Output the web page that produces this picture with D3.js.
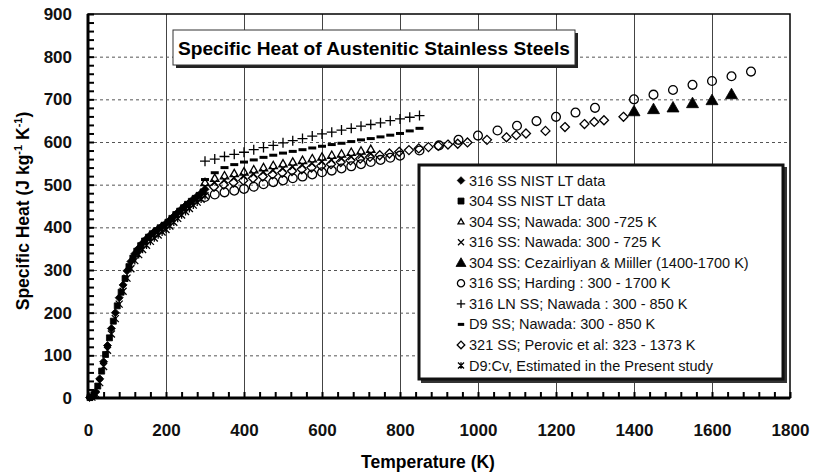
<!DOCTYPE html>
<html lang="en">
<head>
<meta charset="UTF-8">
<title>Specific Heat of Austenitic Stainless Steels</title>
<script src="https://d3js.org/d3.v7.min.js"></script>
<style>
    body { margin: 0; background: #fff; }
    svg { display: block; font-family: "Liberation Sans", Arial, sans-serif; }
    .tick-label { font-weight: bold; font-size: 17px; fill: #111; }
    .legend text { font-size: 14.5px; fill: #111; }
</style>
</head>
<body>
<svg id="chart" width="814" height="475"></svg>
<script>
// --- data ---
// low temperature NIST data and present-study Cv (0 - 300 K)
const nist316T = [4, 10, 20, 30, 40, 50, 60, 70, 80, 90, 100, 110, 120, 130, 140, 150, 160, 170, 180, 190, 200, 210, 220, 230, 240, 250, 260, 270, 280, 290, 300];
const nist316  = [1, 3, 14, 45, 85, 123, 163, 200, 235, 265, 298, 320, 338, 351, 363, 373, 382, 390, 396, 403, 409, 417, 426, 435, 443, 451, 458, 466, 473, 480, 489];
const nist304T = [5, 15, 25, 35, 45, 55, 65, 75, 85, 95, 105, 115, 125, 135, 145, 155, 165, 175, 185, 195, 205, 215, 225, 235, 245, 255, 265, 275, 285, 295];
const nist304  = [1, 8, 28, 63, 102, 141, 180, 216, 248, 280, 308, 328, 344, 357, 368, 377, 385, 392, 399, 405, 412, 421, 430, 438, 446, 454, 461, 468, 475, 483];
const d9CvT = [10, 20, 30, 40, 50, 60, 70, 80, 90, 100, 110, 120, 130, 140, 150, 160, 170, 180, 190, 200, 210, 220, 230, 240, 250, 260, 270, 280, 290, 300];
const d9Cv  = [2, 9, 36, 74, 112, 150, 186, 220, 250, 281, 303, 322, 336, 348, 358, 367, 375, 382, 389, 395, 403, 412, 421, 429, 437, 444, 452, 459, 466, 474];

// Nawada 300 - 725 K
const nawadaT725 = [300, 325, 350, 375, 400, 425, 450, 475, 500, 525, 550, 575, 600, 625, 650, 675, 700, 725];
const nawada304  = [505, 515, 521, 526, 530, 535, 540, 545, 549, 553, 557, 561, 565, 569, 572, 576, 579, 583];
const nawada316  = [495, 505, 511, 516, 520, 525, 530, 534, 538, 542, 546, 550, 554, 558, 561, 565, 568, 572];

// Nawada 300 - 850 K
const nawadaT850 = [300, 325, 350, 375, 400, 425, 450, 475, 500, 525, 550, 575, 600, 625, 650, 675, 700, 725, 750, 775, 800, 825, 850];
const nawada316LN = [555, 560, 566, 571, 576, 582, 587, 592, 598, 603, 608, 614, 619, 623, 628, 632, 637, 641, 645, 650, 654, 658, 662];
const nawadaD9    = [512, 528, 540, 547, 553, 558, 564, 569, 574, 578, 582, 586, 590, 594, 597, 601, 605, 608, 612, 616, 620, 626, 632];

// Cezairliyan & Miiller 1400 - 1700 K
const cezT = [1400, 1450, 1500, 1550, 1600, 1650];
const cez304 = [672, 677, 681, 691, 698, 712];

// Harding 300 - 1700 K
const hardingT = [300, 325, 350, 375, 400, 425, 450, 475, 500, 525, 550, 575, 600, 625, 650, 675, 700, 725, 750, 775, 800, 850, 900, 950, 1000, 1050, 1100, 1150, 1200, 1250, 1300, 1400, 1450, 1500, 1550, 1600, 1650, 1700];
const harding316 = [471, 477, 482, 486, 490, 495, 501, 506, 510, 515, 519, 524, 529, 533, 538, 543, 548, 553, 558, 563, 568, 580, 592, 605, 615, 627, 638, 649, 659, 669, 680, 700, 711, 722, 734, 743, 754, 765];

// Perovic et al 323 - 1373 K
const perovicT = [323, 348, 373, 398, 423, 448, 473, 498, 523, 548, 573, 598, 623, 648, 673, 698, 723, 748, 773, 798, 823, 848, 873, 898, 923, 948, 973, 1023, 1073, 1098, 1123, 1173, 1223, 1273, 1298, 1323, 1373];
const perovic321 = [495, 500, 505, 510, 515, 519, 524, 528, 532, 536, 540, 544, 548, 553, 557, 561, 565, 569, 573, 577, 581, 585, 588, 591, 594, 596, 599, 605, 611, 616, 620, 626, 635, 642, 647, 651, 659];

const xTicks = [0, 200, 400, 600, 800, 1000, 1200, 1400, 1600, 1800];
const yTicks = [0, 100, 200, 300, 400, 500, 600, 700, 800, 900];

const legendLabels = [
    '316 SS NIST LT data',
    '304 SS NIST LT data',
    '304  SS; Nawada: 300 -725 K',
    '316 SS: Nawada: 300 - 725 K',
    '304 SS: Cezairliyan & Miiller (1400-1700 K)',
    '316 SS; Harding : 300 - 1700 K',
    '316 LN SS; Nawada : 300 - 850 K',
    'D9 SS; Nawada: 300 - 850 K',
    '321 SS; Perovic et al: 323 - 1373 K',
    'D9:Cv, Estimated in the Present study'
];

// series description (order = legend order)
const series = [
    {T: nist316T, v: nist316, shape: 'diamond', size: 4, fill: true},
    {T: nist304T, v: nist304, shape: 'square', size: 3, fill: true},
    {T: nawadaT725, v: nawada304, shape: 'triangle', size: 4.2, fill: false},
    {T: nawadaT725, v: nawada316, shape: 'x', size: 3.2, fill: false},
    {T: cezT, v: cez304, shape: 'triangle', size: 6, fill: true},
    {T: hardingT, v: harding316, shape: 'circle', size: 4.4, fill: false},
    {T: nawadaT850, v: nawada316LN, shape: 'plus', size: 5, fill: false},
    {T: nawadaT850, v: nawadaD9, shape: 'dash', size: 4, fill: false},
    {T: perovicT, v: perovic321, shape: 'diamond', size: 4.5, fill: false},
    {T: d9CvT, v: d9Cv, shape: 'star', size: 3.5, fill: false}
];

// --- layout ---
const svg = d3.select('#chart');
const plot = {left: 88, right: 790, top: 14, bottom: 398};

const x = d3.scaleLinear().domain([0, 1800]).range([plot.left, plot.right]);
const y = d3.scaleLinear().domain([0, 900]).range([plot.bottom, plot.top]);

// marker shapes as path strings centred on 0,0
function markerPath(shape, s) {
    switch (shape) {
        case 'diamond': return `M0,${-s}L${s},0L0,${s}L${-s},0Z`;
        case 'square': return `M${-s},${-s}H${s}V${s}H${-s}Z`;
        case 'triangle': return `M0,${-s}L${s},${s * 0.75}L${-s},${s * 0.75}Z`;
        case 'x': return `M${-s},${-s}L${s},${s}M${-s},${s}L${s},${-s}`;
        case 'plus': return `M${-s},0H${s}M0,${-s}V${s}`;
        case 'dash': return `M${-s},0H${s}`;
        case 'star': return `M${-s},${-s}L${s},${s}M${-s},${s}L${s},${-s}M0,${-s * 1.1}V${s * 1.1}`;
        case 'circle': return `M${s},0A${s},${s} 0 1,1 ${-s},0A${s},${s} 0 1,1 ${s},0Z`;
    }
}

function styleMarker(sel, d) {
    const closed = d.shape === 'circle' || d.shape === 'diamond' || d.shape === 'triangle' || d.shape === 'square';
    sel.attr('d', markerPath(d.shape, d.size))
        .attr('fill', d.fill ? '#000' : (closed ? '#fff' : 'none'))
        .attr('fill-opacity', d.fill ? 1 : 0)
        .attr('stroke', '#000')
        .attr('stroke-width', d.shape === 'dash' ? 3 : (d.fill ? 0.8 : 1.3));
}

function plain(g) {
    g.attr('font-family', null).attr('font-size', null);
    g.select('.domain').remove();
}

// --- gridlines ---
svg.append('g')
    .attr('transform', `translate(0,${plot.bottom})`)
    .call(d3.axisBottom(x).tickValues(xTicks.slice(1, -1)).tickSize(-(plot.bottom - plot.top)).tickFormat(''))
    .call(plain)
    .call(g => g.selectAll('line').attr('stroke', '#444').attr('stroke-width', 1));

svg.append('g')
    .attr('transform', `translate(${plot.left},0)`)
    .call(d3.axisLeft(y).tickValues(yTicks.slice(1, -1)).tickSize(-(plot.right - plot.left)).tickFormat(''))
    .call(plain)
    .call(g => g.selectAll('line').attr('stroke', '#555').attr('stroke-width', 1).attr('stroke-dasharray', '3,3'));

// --- minor ticks (inward) ---
svg.append('g')
    .attr('transform', `translate(0,${plot.bottom})`)
    .call(d3.axisBottom(x).tickValues(d3.range(0, 1801, 40)).tickSize(-6).tickFormat(''))
    .call(plain)
    .call(g => g.selectAll('line').attr('stroke', '#000').attr('stroke-width', 2));

svg.append('g')
    .attr('transform', `translate(${plot.left},0)`)
    .call(d3.axisLeft(y).tickValues(d3.range(0, 901, 20)).tickSize(-6).tickFormat(''))
    .call(plain)
    .call(g => g.selectAll('line').attr('stroke', '#000').attr('stroke-width', 2));

// --- frame ---
svg.append('rect')
    .attr('x', plot.left).attr('y', plot.top)
    .attr('width', plot.right - plot.left).attr('height', plot.bottom - plot.top)
    .attr('fill', 'none').attr('stroke', '#000').attr('stroke-width', 1.5);
svg.append('line').attr('x1', plot.left).attr('x2', plot.left).attr('y1', plot.top).attr('y2', plot.bottom + 1)
    .attr('stroke', '#000').attr('stroke-width', 3);
svg.append('line').attr('x1', plot.left - 1).attr('x2', plot.right).attr('y1', plot.bottom).attr('y2', plot.bottom)
    .attr('stroke', '#000').attr('stroke-width', 3);

// --- tick labels ---
svg.append('g')
    .attr('transform', `translate(0,${plot.bottom})`)
    .call(d3.axisBottom(x).tickValues(xTicks).tickSize(0).tickPadding(26).tickFormat(d3.format('d')))
    .call(plain)
    .call(g => g.selectAll('text').attr('class', 'tick-label'));

svg.append('g')
    .attr('transform', `translate(${plot.left},0)`)
    .call(d3.axisLeft(y).tickValues(yTicks).tickSize(0).tickPadding(16).tickFormat(d3.format('d')))
    .call(plain)
    .call(g => g.selectAll('text').attr('class', 'tick-label'));

// --- axis titles ---
svg.append('text')
    .attr('x', 428).attr('y', 468)
    .attr('text-anchor', 'middle')
    .attr('font-weight', 'bold').attr('font-size', 17.5)
    .text('Temperature (K)');

const yTitle = svg.append('text')
    .attr('transform', `translate(29,${(plot.top + plot.bottom) / 2 + 5}) rotate(-90)`)
    .attr('text-anchor', 'middle')
    .attr('font-weight', 'bold').attr('font-size', 17.5);
yTitle.append('tspan').text('Specific Heat (J kg');
yTitle.append('tspan').attr('font-size', 11).attr('dy', -7).text('-1');
yTitle.append('tspan').attr('dy', 7).text(' K');
yTitle.append('tspan').attr('font-size', 11).attr('dy', -7).text('-1');
yTitle.append('tspan').attr('dy', 7).text(')');

// --- data markers ---
const drawOrder = [5, 8, 2, 3, 6, 7, 4, 9, 1, 0];
drawOrder.forEach(i => {
    const s = series[i];
    const pts = s.T.map((t, j) => ({t: t, v: s.v[j]}));
    svg.append('g').selectAll('path')
        .data(pts)
        .join('path')
        .attr('transform', d => `translate(${x(d.t)},${y(d.v)})`)
        .call(sel => styleMarker(sel, s));
});

// --- title box ---
svg.append('rect').attr('x', 176).attr('y', 33).attr('width', 402).attr('height', 35).attr('fill', '#222');
svg.append('rect').attr('x', 173).attr('y', 30).attr('width', 402).attr('height', 35)
    .attr('fill', '#fff').attr('stroke', '#333').attr('stroke-width', 1);
svg.append('text')
    .attr('x', 374).attr('y', 55)
    .attr('text-anchor', 'middle')
    .attr('font-weight', 'bold').attr('font-size', 18)
    .attr('textLength', 392).attr('lengthAdjust', 'spacingAndGlyphs')
    .text('Specific Heat of Austenitic Stainless Steels');

// --- legend ---
const legend = svg.append('g').attr('class', 'legend');
legend.append('rect').attr('x', 421).attr('y', 167).attr('width', 366).attr('height', 216).attr('fill', '#333');
legend.append('rect').attr('x', 419).attr('y', 165).attr('width', 364).attr('height', 214)
    .attr('fill', '#fff').attr('stroke', '#111').attr('stroke-width', 3);

const legendSizes = [3.8, 3, 3, 3, 5, 3.6, 4.2, 3.2, 3.8, 3];
const rowY = d3.scaleLinear().domain([0, legendLabels.length - 1]).range([180.5, 365.5]);
legendLabels.forEach((label, i) => {
    const s = Object.assign({}, series[i], {size: legendSizes[i]});
    legend.append('path')
        .attr('transform', `translate(461,${rowY(i)})`)
        .call(sel => styleMarker(sel, s));
    legend.append('text')
        .attr('x', 469).attr('y', rowY(i) + 5)
        .text(label);
});
</script>
</body>
</html>
